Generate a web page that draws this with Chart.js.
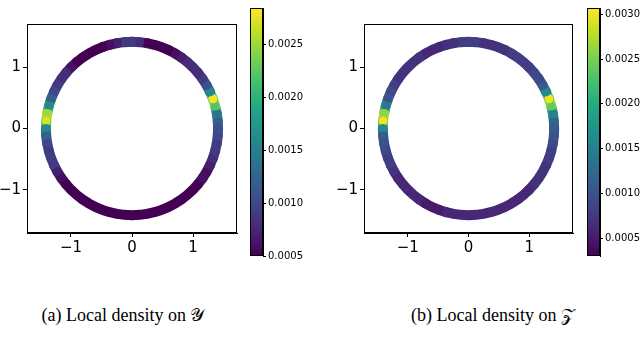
<!DOCTYPE html>
<html>
<head>
<meta charset="utf-8">
<script src="https://cdn.jsdelivr.net/npm/chart.js@4/dist/chart.umd.min.js"></script>
<style>
  body { margin: 0; width: 640px; height: 338px; background: #fff; position: relative; overflow: hidden; }
  canvas { position: absolute; }
  .cap { position: absolute; top: 305px; width: 246px; text-align: center; white-space: nowrap;
         font-family: "Liberation Serif", serif; font-size: 18px; line-height: 20px; color: #000; }
</style>
</head>
<body>
<canvas id="ringA" style="left:0;top:0" width="250" height="270"></canvas>
<canvas id="cbarA" style="left:240px;top:0" width="80" height="270"></canvas>
<canvas id="ringB" style="left:330px;top:0" width="260" height="270"></canvas>
<canvas id="cbarB" style="left:580px;top:0" width="60" height="270"></canvas>
<div class="cap" style="left:0">(a) Local density on 𝒴</div>
<div class="cap" style="left:370px">(b) Local density on 𝒵</div>
<script>
// sample positions round the ring (degrees from +x, counter-clockwise)
const angleDeg = [0,5,10,15,20,25,30,35,40,45,50,55,60,65,70,75,80,85,90,95,100,105,110,115,
  120,125,130,135,140,145,150,155,160,165,170,175,180,185,190,195,200,205,210,215,220,225,230,235,
  240,245,250,255,260,265,270,275,280,285,290,295,300,305,310,315,320,325,330,335,340,345,350,355];
const ringRadius = 1.41;

// local density on Y (left panel)
const densityY = [0.0011,0.0012,0.0014,0.0022,0.0028,0.0016,0.0011,0.0009,0.0008,0.0008,0.0008,0.0007,
  0.0006,0.0005,0.0005,0.0005,0.0005,0.0008,0.0009,0.0009,0.0007,0.0006,0.0005,0.0005,
  0.0005,0.0005,0.0005,0.0006,0.0008,0.0008,0.0009,0.0010,0.0012,0.0016,0.0025,0.0027,
  0.0016,0.0012,0.0010,0.0009,0.0009,0.0009,0.0007,0.0006,0.0005,0.0005,0.0005,0.0005,
  0.0005,0.0005,0.0005,0.0005,0.0005,0.0005,0.0005,0.0005,0.0005,0.0005,0.0005,0.0005,
  0.0005,0.0005,0.0005,0.0005,0.0005,0.0006,0.0006,0.0007,0.0008,0.0009,0.0009,0.0010];

// local density on Z (right panel)
const densityZ = [0.0011,0.0012,0.0015,0.0024,0.0030,0.0016,0.0011,0.0009,0.0009,0.0008,0.0008,0.0008,
  0.0008,0.0007,0.0007,0.0007,0.0007,0.0008,0.0008,0.0008,0.0007,0.0007,0.0006,0.0006,
  0.0006,0.0007,0.0007,0.0007,0.0007,0.0007,0.0008,0.0009,0.0010,0.0014,0.0026,0.0030,
  0.0016,0.0011,0.0010,0.0009,0.0008,0.0008,0.0007,0.0006,0.0006,0.0006,0.0006,0.0006,
  0.0005,0.0005,0.0005,0.0006,0.0006,0.0006,0.0006,0.0006,0.0006,0.0006,0.0006,0.0006,
  0.0006,0.0006,0.0006,0.0006,0.0007,0.0007,0.0007,0.0007,0.0008,0.0008,0.0009,0.0010];

const axisTicks = [-1, 0, 1];
const cbarTicksA = [0.0005, 0.0010, 0.0015, 0.0020, 0.0025];
const cbarTicksB = [0.0005, 0.0010, 0.0015, 0.0020, 0.0025, 0.0030];
const cbarRangeA = [0.0005, 0.00284];
const cbarRangeB = [0.0003, 0.00307];

const viridisStops = ['#440154','#482475','#414487','#355f8d','#2a788e','#21918c',
  '#22a884','#44bf70','#7ad151','#bddf26','#fde725'];

function hexRgb(h) {
  return [parseInt(h.slice(1,3),16), parseInt(h.slice(3,5),16), parseInt(h.slice(5,7),16)];
}
function viridis(t) {
  t = Math.max(0, Math.min(1, t));
  const f = t * (viridisStops.length - 1);
  const i = Math.min(Math.floor(f), viridisStops.length - 2);
  const a = hexRgb(viridisStops[i]), b = hexRgb(viridisStops[i+1]), k = f - i;
  return 'rgb(' + a.map((v, j) => Math.round(v + (b[j] - v) * k)).join(',') + ')';
}
function fmtTick(v) {
  return v < 0 ? '\u2212' + Math.abs(v) : String(v);
}

// black box round the plot area
const frame = {
  id: 'frame',
  afterDraw(chart) {
    const a = chart.chartArea, c = chart.ctx;
    c.save();
    c.strokeStyle = '#000';
    c.lineWidth = 1;
    c.strokeRect(Math.round(a.left) + 0.5, Math.round(a.top) + 0.5,
      Math.round(a.right - a.left) - 1, Math.round(a.bottom - a.top) - 1);
    c.restore();
  }
};

// colorbar gradient
const viridisFill = {
  id: 'viridisFill',
  beforeDatasetsDraw(chart) {
    const a = chart.chartArea, c = chart.ctx;
    const g = c.createLinearGradient(0, a.bottom, 0, a.top);
    viridisStops.forEach((s, i) => g.addColorStop(i / (viridisStops.length - 1), s));
    c.save();
    c.fillStyle = g;
    c.fillRect(a.left, a.top, a.right - a.left, a.bottom - a.top);
    c.restore();
  }
};

const tickFont = { family: 'DejaVu Sans', size: 15 };

function ringChart(id, dens, range, yAxisW, padRight) {
  const n = angleDeg.length;
  const pts = angleDeg.map(a => ({
    x: ringRadius * Math.cos(a * Math.PI / 180),
    y: ringRadius * Math.sin(a * Math.PI / 180)
  }));
  pts.push(pts[0]); // close the loop
  const norm = v => (v - range[0]) / (range[1] - range[0]);
  const cols = pts.map((p, i) => viridis(norm(dens[i % n])));

  new Chart(document.getElementById(id), {
    type: 'scatter',
    data: {
      datasets: [{
        data: pts,
        showLine: true,
        borderWidth: 10,
        pointRadius: 4.5,
        pointBorderWidth: 0,
        pointBackgroundColor: cols,
        borderCapStyle: 'round',
        borderJoinStyle: 'round',
        segment: {
          borderColor: c => viridis(norm((dens[c.p0DataIndex % n] + dens[c.p1DataIndex % n]) / 2))
        }
      }]
    },
    options: {
      responsive: false,
      animation: false,
      events: [],
      plugins: { legend: { display: false }, tooltip: { enabled: false } },
      layout: { padding: { top: 24, right: padRight, left: 0, bottom: 0 } },
      scales: {
        x: {
          min: -1.72, max: 1.72,
          afterBuildTicks: s => { s.ticks = axisTicks.map(v => ({ value: v })); },
          afterFit: s => { s.height = 37; },
          ticks: { callback: fmtTick, font: tickFont, color: '#000', padding: 2, maxRotation: 0 },
          grid: { drawOnChartArea: false, tickLength: 4, color: '#000' },
          border: { color: '#000' }
        },
        y: {
          min: -1.7, max: 1.7,
          afterBuildTicks: s => { s.ticks = axisTicks.map(v => ({ value: v })); },
          afterFit: s => { s.width = yAxisW; },
          ticks: { callback: fmtTick, font: tickFont, color: '#000', padding: 2 },
          grid: { drawOnChartArea: false, tickLength: 4, color: '#000' },
          border: { color: '#000' }
        }
      }
    },
    plugins: [frame]
  });
}

function cbarChart(id, range, ticks, padLeft, axisW) {
  new Chart(document.getElementById(id), {
    type: 'scatter',
    data: { datasets: [{ data: [] }] },
    options: {
      responsive: false,
      animation: false,
      events: [],
      plugins: { legend: { display: false }, tooltip: { enabled: false } },
      layout: { padding: { top: 1, bottom: 14, left: padLeft, right: 0 } },
      scales: {
        x: { display: false },
        y: {
          position: 'right',
          min: range[0], max: range[1],
          afterBuildTicks: s => { s.ticks = ticks.map(v => ({ value: v })); },
          afterFit: s => { s.width = axisW; },
          ticks: { callback: v => v.toFixed(4), font: { family: 'DejaVu Sans', size: 10 }, color: '#000', padding: 2 },
          grid: { drawOnChartArea: false, tickLength: 3, color: '#000' },
          border: { color: '#000' }
        }
      }
    },
    plugins: [viridisFill, frame]
  });
}

ringChart('ringA', densityY, cbarRangeA, 27, 13);
cbarChart('cbarA', cbarRangeA, cbarTicksA, 10, 57);
ringChart('ringB', densityZ, cbarRangeB, 34, 17);
cbarChart('cbarB', cbarRangeB, cbarTicksB, 7, 40);
</script>
</body>
</html>
